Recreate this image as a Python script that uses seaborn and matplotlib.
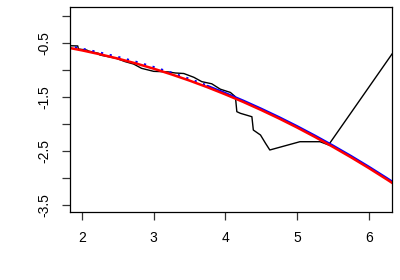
import numpy as np
import pandas as pd
import matplotlib
matplotlib.use("Agg")
import matplotlib.pyplot as plt
import seaborn as sns
from matplotlib.ticker import FixedLocator

# ---- data ----
red_x = [1.80, 2.00, 2.25, 2.50, 2.75, 3.00, 3.25, 3.50, 3.75, 4.00, 4.25,
         4.50, 4.75, 5.00, 5.25, 5.50, 5.75, 6.00, 6.25, 6.40]
red_y = [-0.591, -0.642, -0.714, -0.794, -0.883, -0.981, -1.087, -1.201, -1.324,
         -1.456, -1.596, -1.745, -1.902, -2.068, -2.243, -2.426, -2.617, -2.817,
         -3.026, -3.155]

blue_dot_x = [1.90, 2.00, 2.25, 2.50, 2.75, 3.00, 3.25, 3.50, 3.75]
blue_dot_y = [-0.586, -0.612, -0.684, -0.764, -0.853, -0.951, -1.057, -1.171, -1.294]

blue_x = [3.75, 4.00, 4.25, 4.50, 4.75, 5.00, 5.25, 5.50, 5.75, 6.00, 6.25, 6.40]
blue_y = [-1.299, -1.431, -1.571, -1.720, -1.877, -2.043, -2.218, -2.401, -2.592,
          -2.792, -3.001, -3.130]

black_x = [1.832, 1.94, 1.95, 2.066, 2.09, 2.23, 2.25, 2.37, 2.48, 2.60, 2.72, 2.83,
           3.00, 3.20, 3.30, 3.42, 3.56, 3.67, 3.81, 3.93, 4.07, 4.14, 4.16, 4.21,
           4.37, 4.39, 4.49, 4.56, 4.62, 5.04, 5.32, 5.44, 6.33]
black_y = [-0.556, -0.56, -0.617, -0.636, -0.654, -0.697, -0.728, -0.76, -0.79, -0.85,
           -0.895, -0.974, -1.03, -1.04, -1.06, -1.07, -1.14, -1.22, -1.26, -1.36,
           -1.42, -1.50, -1.776, -1.806, -1.869, -2.115, -2.207, -2.36, -2.484,
           -2.331, -2.331, -2.39, -0.70]

# ---- style ----
sns.set_theme(style="ticks")
plt.rcParams["font.family"] = ["Liberation Sans", "DejaVu Sans"]
plt.rcParams["axes.unicode_minus"] = False

fig = plt.figure(figsize=(4, 2.8), dpi=100)
ax = fig.add_axes([0.175, 0.243, 0.805, 0.732])

sns.lineplot(x=black_x, y=black_y, ax=ax, color="black", lw=1.0,
             sort=False, estimator=None)
sns.lineplot(x=blue_dot_x, y=blue_dot_y, ax=ax, color="blue", lw=1.6,
             linestyle=(0, (1, 3)), sort=False, estimator=None)
sns.lineplot(x=blue_x, y=blue_y, ax=ax, color="blue", lw=1.6,
             sort=False, estimator=None)
sns.lineplot(x=red_x, y=red_y, ax=ax, color="red", lw=1.8,
             sort=False, estimator=None)

ax.set_xlim(1.832, 6.325)
ax.set_ylim(-3.63, 0.16)

ax.set_xticks([2, 3, 4, 5, 6])
ax.set_yticks([-0.5, -1.5, -2.5, -3.5])
ax.set_yticklabels(["-0.5", "-1.5", "-2.5", "-3.5"], rotation=90, va="center")
ax.yaxis.set_minor_locator(FixedLocator([0, -1, -2, -3]))

for sp in ax.spines.values():
    sp.set_visible(True)
    sp.set_color("black")
    sp.set_linewidth(0.9)

ax.tick_params(which="both", direction="out", length=5.5, width=0.9, color="#333333")
ax.tick_params(axis="both", which="major", labelsize=10, pad=8, labelcolor="black")

fig.savefig("out.png", dpi=100)
